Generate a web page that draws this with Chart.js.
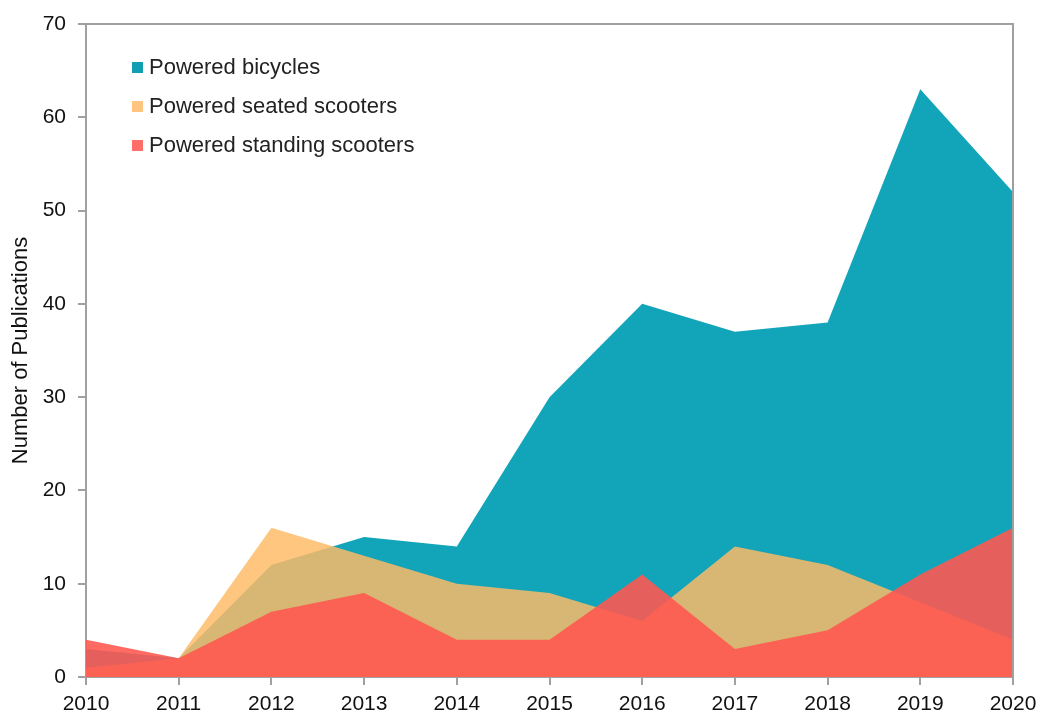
<!DOCTYPE html>
<html>
<head>
<meta charset="utf-8">
<script src="https://cdn.jsdelivr.net/npm/chart.js@4.4.1/dist/chart.umd.min.js"></script>
<style>
  html, body { margin: 0; padding: 0; background: #fff; }
  #wrap { width: 1040px; height: 717px; position: relative; }
</style>
</head>
<body>
<div id="wrap"><canvas id="c" width="1040" height="717"></canvas></div>
<script>
const years = ['2010','2011','2012','2013','2014','2015','2016','2017','2018','2019','2020'];
const poweredBicycles = [3, 2, 12, 15, 14, 30, 40, 37, 38, 63, 52];
const poweredSeatedScooters = [1, 2, 16, 13, 10, 9, 6, 14, 12, 8, 4];
const poweredStandingScooters = [4, 2, 7, 9, 4, 4, 11, 3, 5, 11, 16];
const yTicks = [0, 10, 20, 30, 40, 50, 60, 70];
const seriesLabels = ['Powered bicycles', 'Powered seated scooters', 'Powered standing scooters'];

const FONT = "'Liberation Sans', Arial, sans-serif";
const colTeal = 'rgb(18,165,186)';
const colOrange = 'rgba(255,186,101,0.83)';
const colRed = 'rgba(255,88,80,0.89)';
const legendCols = ['rgb(18,158,178)', 'rgb(255,196,128)', 'rgb(255,110,104)'];

const framePlugin = {
  id: 'frame',
  afterDatasetsDraw(chart) {
    const { ctx, chartArea: a } = chart;
    ctx.save();
    ctx.strokeStyle = '#a0a0a0';
    ctx.lineWidth = 2;
    ctx.beginPath();
    ctx.moveTo(a.left, a.top);
    ctx.lineTo(a.right, a.top);
    ctx.lineTo(a.right, a.bottom);
    ctx.stroke();
    ctx.restore();
  },
  afterDraw(chart) {
    const { ctx } = chart;
    ctx.save();
    ctx.font = '22px ' + FONT;
    ctx.textBaseline = 'middle';
    ctx.textAlign = 'left';
    const rows = [67, 106, 145];
    seriesLabels.forEach((lab, i) => {
      ctx.fillStyle = legendCols[i];
      ctx.fillRect(132, rows[i] - 5, 11, 11);
      ctx.fillStyle = '#222';
      ctx.fillText(lab, 149, rows[i] + 1);
    });
    ctx.restore();
  }
};

new Chart(document.getElementById('c'), {
  type: 'line',
  data: {
    labels: years,
    datasets: [
      { label: seriesLabels[0], data: poweredBicycles, backgroundColor: colTeal, borderWidth: 0, fill: 'origin', pointRadius: 0, tension: 0, order: 3 },
      { label: seriesLabels[1], data: poweredSeatedScooters, backgroundColor: colOrange, borderWidth: 0, fill: 'origin', pointRadius: 0, tension: 0, order: 2 },
      { label: seriesLabels[2], data: poweredStandingScooters, backgroundColor: colRed, borderWidth: 0, fill: 'origin', pointRadius: 0, tension: 0, order: 1 }
    ]
  },
  options: {
    responsive: false,
    animation: false,
    layout: { autoPadding: false, padding: { top: 24, right: 27, left: 0, bottom: 0 } },
    plugins: { legend: { display: false }, tooltip: { enabled: false } },
    scales: {
      x: {
        offset: false,
        grid: { display: true, drawOnChartArea: false, drawTicks: true, tickLength: 8, color: '#a0a0a0', lineWidth: 2 },
        border: { display: true, color: '#a0a0a0', width: 2 },
        ticks: { color: '#111', font: { family: FONT, size: 21 }, padding: 7, maxRotation: 0, autoSkip: false },
        afterFit(s) { s.height = 40; s.paddingRight = 0; s.paddingLeft = 0; }
      },
      y: {
        min: 0, max: 70,
        afterBuildTicks(s) { s.ticks = yTicks.map(v => ({ value: v })); },
        grid: { display: true, drawOnChartArea: false, drawTicks: true, tickLength: 8, color: '#a0a0a0', lineWidth: 2 },
        border: { display: true, color: '#a0a0a0', width: 2 },
        ticks: { color: '#111', font: { family: FONT, size: 21 }, padding: 12 },
        title: { display: true, text: 'Number of Publications', color: '#111', font: { family: FONT, size: 22 }, padding: { top: 8, bottom: 0 } },
        afterFit(s) { s.width = 86; s.paddingTop = 0; s.paddingBottom = 0; }
      }
    }
  },
  plugins: [framePlugin]
});
</script>
</body>
</html>
